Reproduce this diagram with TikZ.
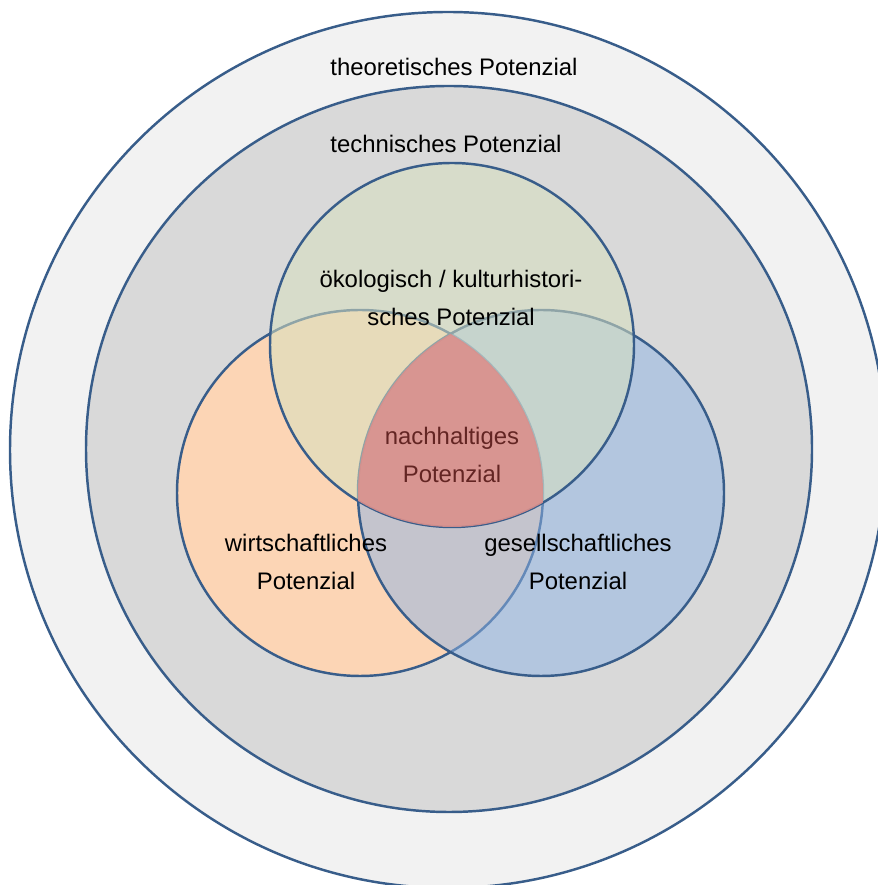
\documentclass[tikz,border=0pt]{standalone}
\usepackage{fontspec}
\setmainfont{Liberation Sans}
\definecolor{rim}{RGB}{56,93,138}
\definecolor{theofill}{RGB}{242,242,242}
\definecolor{techfill}{RGB}{217,217,217}
\definecolor{oekofill}{RGB}{215,224,191}
\definecolor{wirtfill}{RGB}{252,213,181}
\definecolor{gesefill}{RGB}{143,180,230}
\definecolor{nachfill}{RGB}{218,143,140}
\definecolor{nachtext}{RGB}{99,37,35}
\tikzset{potenzial/.style={align=center, inner sep=0pt, font=\fontsize{13.6}{21.5}\selectfont}}
\begin{document}
\begin{tikzpicture}[line width=1.4pt]
	\useasboundingbox (0,0) rectangle (17.56,17.7);
	\clip (0,0) rectangle (17.56,17.7);
	\coordinate (theo) at (8.96,8.70);
	\coordinate (tech) at (8.98,8.72);
	\coordinate (oeko) at (9.04,10.80);
	\coordinate (wirt) at (7.20,7.84);
	\coordinate (gese) at (10.82,7.84);
	\filldraw[fill=theofill, draw=rim] (theo) circle (8.76);
	\filldraw[fill=techfill, draw=rim] (tech) circle (7.26);
	\filldraw[fill=wirtfill, draw=rim] (wirt) circle (3.66);
	\filldraw[fill=gesefill, fill opacity=0.51, draw=rim] (gese) circle (3.66);
	\filldraw[fill=oekofill, fill opacity=0.55, draw=rim] (oeko) circle (3.64);
	\begin{scope}
		\clip (wirt) circle (3.66);
		\clip (gese) circle (3.66);
		\fill[nachfill, opacity=0.9] (oeko) circle (3.64);
	\end{scope}
	\node[potenzial] (theotext) at (9.08,16.37) {theoretisches Potenzial};
	\node[potenzial] (techtext) at (8.92,14.83) {technisches Potenzial};
	\node[potenzial] (oekotext) at (9.02,11.74) {ökologisch / kulturhistori-\\sches Potenzial};
	\node[potenzial, text=nachtext] (nachtext) at (9.04,8.60) {nachhaltiges\\Potenzial};
	\node[potenzial] (wirttext) at (6.12,6.46) {wirtschaftliches\\Potenzial};
	\node[potenzial] (gesetext) at (11.56,6.46) {gesellschaftliches\\Potenzial};
\end{tikzpicture}
\end{document}
